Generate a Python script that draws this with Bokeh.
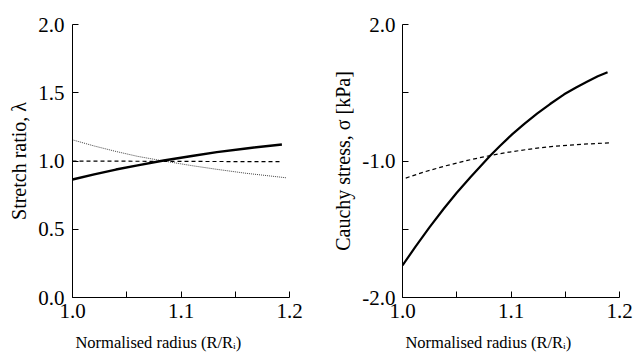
from bokeh.plotting import figure
from bokeh.layouts import row
from bokeh.models import Range1d, FixedTicker, PrintfTickFormatter
from bokeh.embed import file_html
from bokeh.resources import INLINE

# ---- Data ----
# Left panel: stretch ratios vs normalised radius
lam_solid_x = [1.0, 1.02, 1.04, 1.06, 1.084, 1.11, 1.133, 1.16, 1.193]
lam_solid_y = [0.864, 0.902, 0.937, 0.968, 1.004, 1.037, 1.065, 1.092, 1.121]
lam_dash_x = [1.0, 1.1, 1.193]
lam_dash_y = [1.0, 0.997, 0.995]
lam_dot_x = [1.0, 1.02, 1.04, 1.06, 1.084, 1.11, 1.133, 1.16, 1.197]
lam_dot_y = [1.155, 1.110, 1.070, 1.034, 1.000, 0.966, 0.939, 0.910, 0.877]

# Right panel: Cauchy stress vs normalised radius
sig_solid_x = [1.0, 1.012, 1.025, 1.038, 1.05, 1.063, 1.081, 1.09, 1.101,
               1.112, 1.124, 1.136, 1.149, 1.16, 1.17, 1.18, 1.189]
sig_solid_y = [-1.531, -1.254, -0.969, -0.70, -0.465, -0.23, 0.081, 0.223, 0.39,
               0.540, 0.694, 0.835, 0.977, 1.078, 1.160, 1.241, 1.301]
sig_dash_x = [1.003, 1.02, 1.04, 1.06, 1.081, 1.10, 1.12, 1.14, 1.165, 1.192]
sig_dash_y = [-0.25, -0.16, -0.07, 0.01, 0.081, 0.135, 0.18, 0.217, 0.245, 0.267]

x_major = [1.0, 1.1, 1.2]
x_minor = [1.05, 1.15]
left_y_ticks = [0.0, 0.5, 1.0, 1.5, 2.0]
right_y_major = [-2.0, 0.0, 2.0]
right_y_minor = [-1.0, 1.0]
right_y_labels = {0.0: "-1.0"}

# trailing no-break spaces shift the centred title left, as in the reference
XLABEL = "Normalised radius (R/R\u1d62)" + "\u00a0" * 11
FONT = "Liberation Serif"
TICK_SIZE = "21px"
LABEL_SIZE = "20px"
XLABEL_SIZE = "16.5px"


def style(p, ystand):
    p.outline_line_color = None
    p.xgrid.visible = False
    p.ygrid.visible = False
    p.background_fill_color = "white"
    p.border_fill_color = "white"
    for ax in (p.xaxis[0], p.yaxis[0]):
        ax.axis_line_color = "black"
        ax.axis_line_width = 1
        ax.major_tick_line_color = "black"
        ax.minor_tick_line_color = "black"
        ax.major_tick_in = 6
        ax.major_tick_out = 0
        ax.minor_tick_in = 6
        ax.minor_tick_out = 0
        ax.major_label_text_font = FONT
        ax.major_label_text_font_size = TICK_SIZE
        ax.major_label_text_color = "black"
        ax.axis_label_text_font = FONT
        ax.axis_label_text_font_size = LABEL_SIZE
        ax.axis_label_text_font_style = "normal"
        ax.axis_label_text_color = "black"
    xa = p.xaxis[0]
    xa.ticker = FixedTicker(ticks=x_major, minor_ticks=x_minor)
    xa.formatter = PrintfTickFormatter(format="%.1f")
    xa.major_label_standoff = 6
    xa.axis_label = XLABEL
    xa.axis_label_text_font_size = XLABEL_SIZE
    xa.axis_label_standoff = 12
    p.yaxis[0].major_label_standoff = ystand
    p.yaxis[0].axis_label_standoff = 5


# ---- Left panel ----
p1 = figure(width=316, height=354, output_backend="svg", toolbar_location=None,
            x_range=Range1d(1.0, 1.2), y_range=Range1d(0.0, 2.0),
            min_border_left=72, min_border_right=27, min_border_top=24,
            min_border_bottom=57)
style(p1, 8)
p1.yaxis[0].ticker = FixedTicker(ticks=left_y_ticks)
p1.yaxis[0].formatter = PrintfTickFormatter(format="%.1f")
p1.yaxis[0].axis_label = "Stretch ratio, \u03bb"
p1.line(lam_dot_x, lam_dot_y, line_color="#444444", line_width=1, line_dash="1 1")
p1.line(lam_dash_x, lam_dash_y, line_color="black", line_width=1.2, line_dash="4 3")
p1.line(lam_solid_x, lam_solid_y, line_color="black", line_width=2.5)

# ---- Right panel ----
p2 = figure(width=317, height=354, output_backend="svg", toolbar_location=None,
            x_range=Range1d(1.0, 1.2), y_range=Range1d(-2.0, 2.0),
            min_border_left=86, min_border_right=14, min_border_top=24,
            min_border_bottom=57)
style(p2, 7)
p2.yaxis[0].ticker = FixedTicker(ticks=right_y_major, minor_ticks=right_y_minor)
p2.yaxis[0].formatter = PrintfTickFormatter(format="%.1f")
p2.yaxis[0].major_label_overrides = right_y_labels
p2.yaxis[0].axis_label = "Cauchy stress, \u03c3 [kPa]"
p2.line(sig_dash_x, sig_dash_y, line_color="black", line_width=1.2, line_dash="4 3")
p2.line(sig_solid_x, sig_solid_y, line_color="black", line_width=2.2)

layout = row(p1, p2)
open("out.html", "w").write(file_html(layout, INLINE))
